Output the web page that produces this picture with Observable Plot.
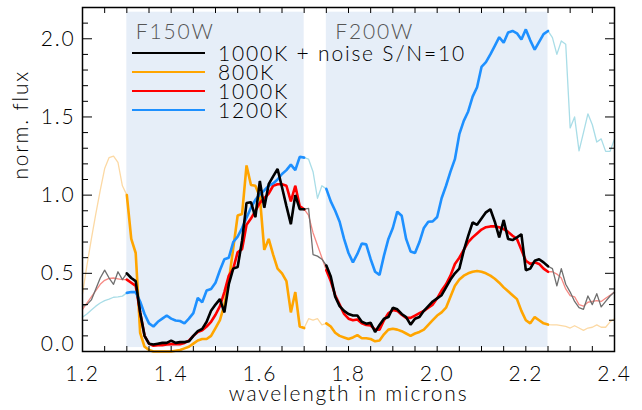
<!DOCTYPE html>
<html>
<head>
<meta charset="utf-8">
<script src="https://cdn.jsdelivr.net/npm/d3@7"></script>
<script src="https://cdn.jsdelivr.net/npm/@observablehq/plot@0.6"></script>
<style>
  html, body { margin: 0; padding: 0; background: #fff; }
  #wrap { position: relative; width: 642px; height: 410px; }
  #legend { position: absolute; left: 0; top: 0; pointer-events: none; }
  .legrow { position: absolute; left: 218px; height: 19px; line-height: 19px; overflow: visible;
            font-family: Lato, "DejaVu Sans", sans-serif; font-weight: 300; font-size: 21px;
            letter-spacing: 1.8px; white-space: pre; color: #000; pointer-events: none; }
</style>
</head>
<body>
<div id="wrap"></div>
<script>
// ---- data ----
const wavelength = [
  1.20,1.21,1.22,1.23,1.24,1.25,1.26,1.27,1.28,1.29,1.30,
  1.31,1.32,1.33,1.34,1.35,1.36,1.37,1.38,1.39,1.40,
  1.41,1.42,1.43,1.44,1.45,1.46,1.47,1.48,1.49,1.50,
  1.51,1.52,1.53,1.54,1.55,1.56,1.57,1.58,1.59,1.60,
  1.61,1.62,1.63,1.64,1.65,1.66,1.67,1.68,1.69,1.70,
  1.71,1.72,1.73,1.74,1.75,1.76,1.77,1.78,1.79,1.80,
  1.81,1.82,1.83,1.84,1.85,1.86,1.87,1.88,1.89,1.90,
  1.91,1.92,1.93,1.94,1.95,1.96,1.97,1.98,1.99,2.00,
  2.01,2.02,2.03,2.04,2.05,2.06,2.07,2.08,2.09,2.10,
  2.11,2.12,2.13,2.14,2.15,2.16,2.17,2.18,2.19,2.20,
  2.21,2.22,2.23,2.24,2.25,2.26,2.27,2.28,2.29,2.30,
  2.31,2.32,2.33,2.34,2.35,2.36,2.37,2.38,2.39,2.40
];
const flux800K = [
  0.37,0.55,0.72,0.88,1.03,1.17,1.24,1.25,1.21,1.06,1.00,
  0.72,0.63,0.12,0.03,0.01,0.0,0.0,0.0,0.0,0.0,
  0.005,0.01,0.02,0.03,0.05,0.07,0.08,0.08,0.10,0.15,
  0.20,0.30,0.45,0.66,0.87,0.88,1.19,1.065,1.06,0.99,
  0.65,0.72,0.62,0.53,0.50,0.45,0.25,0.38,0.16,0.15,
  0.21,0.20,0.21,0.17,0.18,0.16,0.12,0.10,0.09,0.08,
  0.09,0.105,0.085,0.085,0.08,0.065,0.07,0.11,0.14,0.145,
  0.14,0.13,0.115,0.10,0.115,0.125,0.14,0.17,0.20,0.23,
  0.25,0.28,0.35,0.42,0.46,0.485,0.50,0.51,0.515,0.51,
  0.50,0.485,0.465,0.44,0.41,0.385,0.36,0.335,0.26,0.20,
  0.18,0.22,0.20,0.18,0.172,0.17,0.17,0.165,0.16,0.15,
  0.165,0.15,0.135,0.15,0.155,0.17,0.155,0.155,0.19,0.21
];
const flux1000K = [
  0.27,0.31,0.35,0.39,0.43,0.455,0.468,0.47,0.465,0.46,0.46,
  0.44,0.42,0.25,0.10,0.05,0.037,0.04,0.04,0.045,0.047,
  0.047,0.047,0.055,0.07,0.10,0.125,0.135,0.16,0.19,0.235,
  0.29,0.38,0.485,0.53,0.635,0.655,0.81,0.85,0.90,0.95,
  0.98,1.01,1.06,1.07,1.07,1.06,0.96,1.06,0.93,0.91,
  0.87,0.76,0.68,0.60,0.52,0.45,0.36,0.30,0.24,0.21,
  0.20,0.205,0.18,0.17,0.166,0.14,0.14,0.20,0.245,0.265,
  0.26,0.235,0.215,0.215,0.23,0.245,0.26,0.28,0.30,0.34,
  0.39,0.43,0.485,0.56,0.60,0.65,0.70,0.73,0.755,0.78,
  0.795,0.80,0.80,0.795,0.783,0.765,0.74,0.72,0.65,0.58,
  0.56,0.57,0.56,0.53,0.51,0.51,0.495,0.47,0.40,0.357,
  0.35,0.30,0.29,0.315,0.32,0.325,0.32,0.34,0.36,0.38
];
const flux1200K = [
  0.22,0.24,0.265,0.29,0.31,0.325,0.335,0.347,0.35,0.354,0.375,
  0.38,0.38,0.32,0.24,0.18,0.16,0.19,0.21,0.23,0.21,
  0.198,0.195,0.18,0.21,0.245,0.343,0.315,0.39,0.40,0.44,
  0.52,0.59,0.60,0.70,0.735,0.79,0.855,0.92,0.97,1.005,
  1.03,1.06,1.075,1.10,1.135,1.16,1.195,1.16,1.245,1.24,
  1.23,1.15,0.98,1.06,1.04,0.96,0.90,0.83,0.72,0.63,
  0.57,0.624,0.69,0.685,0.59,0.51,0.49,0.613,0.72,0.79,
  0.894,0.868,0.72,0.64,0.63,0.70,0.79,0.83,0.832,0.86,
  0.98,1.06,1.15,1.23,1.39,1.475,1.535,1.63,1.69,1.82,
  1.85,1.90,1.955,2.01,1.975,2.04,2.05,2.035,1.995,2.06,
  1.99,1.93,1.98,2.03,2.05,2.007,1.90,1.986,1.965,1.43,
  1.50,1.283,1.40,1.52,1.45,1.34,1.36,1.28,1.28,1.36
];
const flux1000KNoise = [
  0.29,0.30,0.33,0.40,0.47,0.52,0.47,0.43,0.51,0.46,0.50,
  0.47,0.45,0.25,0.10,0.05,0.045,0.05,0.055,0.055,0.07,
  0.055,0.06,0.06,0.065,0.10,0.13,0.145,0.19,0.26,0.30,
  0.335,0.25,0.43,0.53,0.54,0.71,0.95,0.955,0.86,1.09,
  0.92,1.07,1.12,1.167,1.05,0.93,0.815,1.00,0.91,0.91,
  0.915,0.62,0.61,0.59,0.55,0.48,0.35,0.29,0.26,0.24,
  0.23,0.23,0.19,0.178,0.183,0.125,0.17,0.21,0.22,0.28,
  0.27,0.24,0.22,0.172,0.21,0.22,0.26,0.29,0.32,0.34,
  0.36,0.41,0.46,0.50,0.53,0.645,0.74,0.826,0.81,0.85,
  0.89,0.91,0.83,0.73,0.84,0.72,0.713,0.73,0.75,0.52,
  0.53,0.58,0.59,0.57,0.545,0.53,0.42,0.53,0.43,0.38,
  0.32,0.28,0.27,0.355,0.30,0.37,0.285,0.32,0.355,0.38
];
const seriesLabels = ["1000K + noise S/N=10", "800K", "1000K", "1200K"];
const filterNames = ["F150W", "F200W"];
const filterStart = [1.30, 1.75];
const filterEnd = [1.70, 2.25];
const shadeLow = 0.025, shadeHigh = 2.17;
const xTickLabels = [1.2, 1.4, 1.6, 1.8, 2.0, 2.2, 2.4];
const xTicksAll = [1.2,1.25,1.3,1.35,1.4,1.45,1.5,1.55,1.6,1.65,1.7,1.75,1.8,1.85,1.9,1.95,2.0,2.05,2.1,2.15,2.2,2.25,2.3,2.35,2.4];
const yTickLabels = [0.5, 1.0, 1.5, 2.0];
const yZeroLabel = [0.0];
const yTicksMajor = [0.0, 0.5, 1.0, 1.5, 2.0];
const yTicksMinor = [0.1,0.2,0.3,0.4,0.6,0.7,0.8,0.9,1.1,1.2,1.3,1.4,1.6,1.7,1.8,1.9,2.1];

// ---- build table ----
function bandOf(w) {
  for (let i = 0; i < filterStart.length; i++) {
    if (w >= filterStart[i] - 1e-9 && w <= filterEnd[i] + 1e-9) return i;
  }
  return -1;
}
const rows = wavelength.map((w, i) => ({
  w, band: bandOf(w),
  k800: flux800K[i], k1000: flux1000K[i], k1200: flux1200K[i], noise: flux1000KNoise[i]
}));
const inBand = rows.filter(d => d.band >= 0);

const series = [
  {key: "k800",  color: "#ffa500", faded: "#fcd9a4"},
  {key: "k1000", color: "#ff0000", faded: "#f68a84"},
  {key: "k1200", color: "#1e90ff", faded: "#a9dde7"},
  {key: "noise", color: "#000000", faded: "#6f6f6f"}
];
const legendColors = ["#000000", "#ffa500", "#ff0000", "#1e90ff"];

const font = 'Lato, "DejaVu Sans", sans-serif';
const fmt = d3.format(".1f");
const filterIdx = filterNames.map((_, i) => i);

const marks = [
  Plot.rect(filterIdx, {x1: i => filterStart[i], x2: i => filterEnd[i], y1: shadeLow, y2: shadeHigh, fill: "#e6eef8"}),
  Plot.text(filterIdx, {x: i => filterStart[i], text: i => filterNames[i], frameAnchor: "top", dy: 17, dx: 9, textAnchor: "start", fill: "#555555"}),
];
for (const s of series) {
  marks.push(Plot.line(rows, {x: "w", y: s.key, stroke: s.faded, strokeWidth: 1.3}));
}
for (const s of series) {
  marks.push(Plot.line(inBand, {x: "w", y: s.key, z: "band", stroke: s.color, strokeWidth: 2.6, strokeLinejoin: "miter"}));
}
marks.push(
  Plot.frame({stroke: "black", strokeWidth: 1.5}),
  Plot.axisX(xTicksAll, {anchor: "bottom", tickSize: -5, tickFormat: () => "", label: null}),
  Plot.axisX(xTicksAll, {anchor: "top", tickSize: -5, tickFormat: () => "", label: null}),
  Plot.axisX(xTickLabels, {anchor: "bottom", tickSize: 0, tickPadding: 15, tickFormat: fmt, label: null}),
  Plot.axisY(yTicksMajor, {anchor: "left", tickSize: -10, tickFormat: () => "", label: null}),
  Plot.axisY(yTicksMinor, {anchor: "left", tickSize: -6, tickFormat: () => "", label: null}),
  Plot.axisY(yTicksMajor, {anchor: "right", tickSize: -10, tickFormat: () => "", label: null}),
  Plot.axisY(yTicksMinor, {anchor: "right", tickSize: -6, tickFormat: () => "", label: null}),
  Plot.axisY(yTickLabels, {anchor: "left", tickSize: 0, tickPadding: 7, tickFormat: fmt, label: null}),
  Plot.axisY(yZeroLabel, {anchor: "left", tickSize: 0, tickPadding: 7, tickFormat: fmt, label: null, dy: -7}),
  Plot.text(["wavelength in microns"], {text: d => d, frameAnchor: "bottom", dy: 49, fill: "black"}),
  Plot.text(["norm. flux"], {text: d => d, frameAnchor: "left", rotate: -90, dx: -61, fill: "black"})
);

const chart = Plot.plot({
  width: 642, height: 410,
  marginLeft: 82, marginRight: 28, marginTop: 7, marginBottom: 59,
  x: {domain: [1.2, 2.4]},
  y: {domain: [0, 2.2]},
  style: {fontFamily: font, fontSize: "21px", fontWeight: 300, letterSpacing: "1.8px", background: "white", color: "black", overflow: "visible"},
  marks
});
const wrap = document.getElementById("wrap");
wrap.appendChild(chart);

// ---- legend overlay (inside the plot area, as in the reference) ----
const ns = "http://www.w3.org/2000/svg";
const leg = document.createElementNS(ns, "svg");
leg.setAttribute("id", "legend");
leg.setAttribute("width", 642);
leg.setAttribute("height", 410);
seriesLabels.forEach((label, i) => {
  const y = 53 + i * 19;
  const ln = document.createElementNS(ns, "line");
  ln.setAttribute("x1", 132); ln.setAttribute("x2", 205);
  ln.setAttribute("y1", y); ln.setAttribute("y2", y);
  ln.setAttribute("stroke", legendColors[i]); ln.setAttribute("stroke-width", 2);
  leg.appendChild(ln);
});
wrap.appendChild(leg);
seriesLabels.forEach((label, i) => {
  const div = document.createElement("div");
  div.className = "legrow";
  div.style.top = (42.9 + i * 19) + "px";
  div.textContent = label;
  wrap.appendChild(div);
});
</script>
</body>
</html>
